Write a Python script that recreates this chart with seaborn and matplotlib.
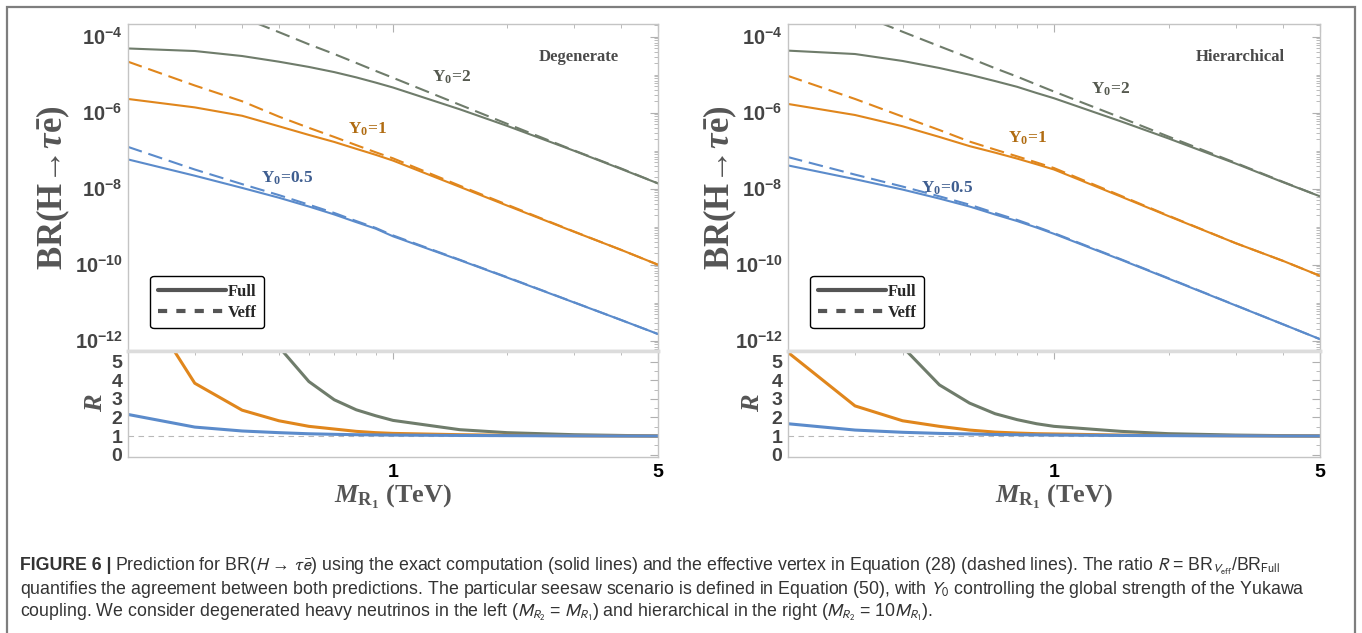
import numpy as np
import pandas as pd
import matplotlib
matplotlib.use("Agg")
import matplotlib.pyplot as plt
import seaborn as sns
from matplotlib.ticker import FixedLocator, NullFormatter, FuncFormatter, LogLocator, MultipleLocator
from matplotlib.lines import Line2D
from matplotlib.patches import Rectangle

# heavy neutrino mass grid (TeV)
m_tev = [0.2, 0.3, 0.4, 0.5, 0.6, 0.7, 0.8, 0.9, 1.0, 1.5, 2, 3, 4, 5]

# Degenerate: BR full / BR Veff / ratio R
deg_full_y2 = [4.9e-5, 4.2e-5, 3.1e-5, 2.2e-5, 1.6e-5, 1.17e-5, 8.5e-6, 6.2e-6, 4.6e-6, 1.23e-6, 4.5e-7, 1.0e-7, 3.3e-8, 1.38e-8]
deg_veff_y2 = [5.1e-3, 1.02e-3, 3.2e-4, 1.32e-4, 6.3e-5, 3.5e-5, 2.04e-5, 1.26e-5, 8.3e-6, 1.62e-6, 5.1e-7, 1.02e-7, 3.4e-8, 1.38e-8]
deg_full_y1 = [2.3e-6, 1.38e-6, 8.3e-7, 4.4e-7, 2.6e-7, 1.7e-7, 1.12e-7, 7.8e-8, 5.5e-8, 1.12e-8, 3.6e-9, 7.4e-10, 2.45e-10, 1.0e-10]
deg_veff_y1 = [2.2e-5, 5.2e-6, 2.0e-6, 7.9e-7, 4.0e-7, 2.3e-7, 1.4e-7, 9.1e-8, 6.3e-8, 1.2e-8, 3.8e-9, 7.5e-10, 2.45e-10, 1.0e-10]
deg_full_y05 = [5.9e-8, 2.2e-8, 1.05e-8, 5.8e-9, 3.4e-9, 2.1e-9, 1.32e-9, 8.9e-10, 5.6e-10, 1.32e-10, 4.6e-11, 1.02e-11, 3.5e-12, 1.5e-12]
deg_veff_y05 = [1.26e-7, 3.2e-8, 1.32e-8, 6.8e-9, 3.8e-9, 2.3e-9, 1.41e-9, 9.3e-10, 5.9e-10, 1.35e-10, 4.7e-11, 1.03e-11, 3.5e-12, 1.5e-12]
deg_r_y2 = [117, 26, 10.7, 5.8, 3.93, 2.95, 2.41, 2.09, 1.84, 1.34, 1.18, 1.07, 1.03, 1.0]
deg_r_y1 = [9.5, 3.84, 2.39, 1.82, 1.52, 1.375, 1.25, 1.18, 1.14, 1.07, 1.04, 1.01, 1.0, 1.0]
deg_r_y05 = [2.16, 1.48, 1.27, 1.18, 1.12, 1.09, 1.07, 1.06, 1.05, 1.03, 1.02, 1.01, 1.0, 1.0]

# Hierarchical
hie_full_y2 = [4.3e-5, 3.5e-5, 2.3e-5, 1.5e-5, 1.0e-5, 6.8e-6, 4.8e-6, 3.3e-6, 2.4e-6, 5.9e-7, 2.1e-7, 4.6e-8, 1.48e-8, 6.3e-9]
hie_veff_y2 = [2.1e-3, 4.3e-4, 1.35e-4, 5.6e-5, 2.75e-5, 1.48e-5, 8.9e-6, 5.5e-6, 3.6e-6, 7.4e-7, 2.35e-7, 4.8e-8, 1.51e-8, 6.3e-9]
hie_full_y1 = [1.7e-6, 8.7e-7, 4.4e-7, 2.3e-7, 1.32e-7, 8.9e-8, 6.2e-8, 4.4e-8, 3.2e-8, 6.2e-9, 1.9e-9, 3.7e-10, 1.26e-10, 5.1e-11]
hie_veff_y1 = [9.3e-6, 2.3e-6, 7.9e-7, 3.5e-7, 1.74e-7, 1.07e-7, 7.1e-8, 4.9e-8, 3.5e-8, 6.5e-9, 1.95e-9, 3.7e-10, 1.26e-10, 5.1e-11]
hie_full_y05 = [4.1e-8, 1.78e-8, 9.5e-9, 5.5e-9, 3.4e-9, 2.1e-9, 1.41e-9, 9.5e-10, 6.5e-10, 1.35e-10, 4.3e-11, 8.5e-12, 2.7e-12, 1.1e-12]
hie_veff_y05 = [6.8e-8, 2.35e-8, 1.14e-8, 6.3e-9, 3.8e-9, 2.3e-9, 1.51e-9, 1.0e-9, 6.8e-10, 1.39e-10, 4.4e-11, 8.6e-12, 2.7e-12, 1.1e-12]
hie_r_y2 = [49, 12.3, 5.8, 3.75, 2.77, 2.20, 1.88, 1.66, 1.52, 1.25, 1.125, 1.05, 1.02, 1.0]
hie_r_y1 = [5.5, 2.62, 1.82, 1.52, 1.32, 1.21, 1.16, 1.125, 1.11, 1.05, 1.03, 1.01, 1.0, 1.0]
hie_r_y05 = [1.66, 1.32, 1.20, 1.14, 1.11, 1.08, 1.07, 1.06, 1.05, 1.03, 1.02, 1.01, 1.0, 1.0]

y0_labels = ["Y$_\\mathregular{0}$=2", "Y$_\\mathregular{0}$=1", "Y$_\\mathregular{0}$=0.5"]
line_colors = ["#6f7c6b", "#e0861c", "#5b8bcb"]
label_colors = ["#55594f", "#b06c12", "#3f5e90"]

sns.set_style("white")
plt.rcParams["font.family"] = ["Liberation Serif", "DejaVu Serif"]
plt.rcParams["mathtext.fontset"] = "custom"
plt.rcParams["mathtext.rm"] = "Liberation Serif:bold"
plt.rcParams["mathtext.it"] = "Liberation Serif:bold:italic"
plt.rcParams["mathtext.bf"] = "Liberation Sans:bold"
plt.rcParams["mathtext.sf"] = "Liberation Sans"

W, H = 1362, 633
fig = plt.figure(figsize=(W / 100, H / 100), dpi=100)

# outer frame
fig.patches.append(Rectangle((7 / W, -0.05), (1355 - 7) / W, 1 - 7 / H + 0.05,
                             transform=fig.transFigure, fill=False,
                             edgecolor="#7e7e7e", lw=1.6))

frame_c = "#c4c4c4"
tick_c = "#b0b0b0"
lab_c = "#444444"


def style_frame(ax):
    for s in ax.spines.values():
        s.set_color(frame_c)
        s.set_linewidth(1.0)
    ax.tick_params(which="both", direction="in", top=True, right=True, color=tick_c)
    ax.tick_params(which="major", length=6, width=0.8)
    ax.tick_params(which="minor", length=3, width=0.6)
    ax.set_xscale("log")
    ax.set_xlim(0.2, 5)
    ax.xaxis.set_major_locator(FixedLocator([1, 5]))
    ax.xaxis.set_minor_locator(FixedLocator([0.3, 0.4, 0.5, 0.6, 0.7, 0.8, 0.9, 2, 3, 4]))
    ax.xaxis.set_minor_formatter(NullFormatter())


def panel(x0px, x1px, full, veff, ratio, title, ypos, ylab_x, rlab_x):
    left = x0px / W
    width = (x1px - x0px) / W
    ax = fig.add_axes([left, 1 - 351 / H, width, (351 - 24) / H])
    axr = fig.add_axes([left, 1 - 457 / H, width, (457 - 351) / H])

    for k in range(3):
        df = pd.DataFrame({"M": m_tev, "full": full[k], "veff": veff[k], "R": ratio[k]})
        sns.lineplot(data=df, x="M", y="full", ax=ax, color=line_colors[k], lw=1.5)
        sns.lineplot(data=df, x="M", y="veff", ax=ax, color=line_colors[k], lw=1.5,
                     linestyle=(0, (7, 3.3)))
        sns.lineplot(data=df, x="M", y="R", ax=axr, color=line_colors[k], lw=2.2)

    # main panel
    style_frame(ax)
    ax.set_yscale("log")
    ax.set_ylim(10 ** -12.27, 10 ** -3.666)
    ax.yaxis.set_major_locator(FixedLocator([1e-12, 1e-10, 1e-8, 1e-6, 1e-4]))
    ax.yaxis.set_minor_locator(LogLocator(base=10, subs=np.arange(1, 10), numticks=30))
    ax.yaxis.set_minor_formatter(NullFormatter())
    ax.yaxis.set_major_formatter(FuncFormatter(
        lambda v, p: r"$\mathbf{10^{%d}}$" % round(np.log10(v))))
    ax.tick_params(axis="y", labelsize=14.5, labelcolor=lab_c, pad=4)
    ax.tick_params(axis="x", labelbottom=False)
    ax.set_xlabel("")
    ax.set_ylabel(r"BR(H→$\tau\bar{\mathrm{e}}$)", fontsize=25,
                  fontweight="bold", color="#555555", va="center")
    ax.yaxis.set_label_coords(ylab_x, 0.5)

    ax.text(0.85, 0.899, title, transform=ax.transAxes, fontsize=12,
            fontweight="bold", color="#4a4a4a", ha="center", va="center")
    for k in range(3):
        ax.text(ypos[k][0], ypos[k][1], y0_labels[k], transform=ax.transAxes,
                fontsize=12.5, fontweight="bold", color=label_colors[k],
                ha="center", va="center")

    handles = [Line2D([], [], color="#555555", lw=3),
               Line2D([], [], color="#555555", lw=3, linestyle=(0, (2.2, 2.2)))]
    leg = ax.legend(handles, ["Full", "Veff"], loc="lower left",
                    bbox_to_anchor=(0.042, 0.07), borderaxespad=0,
                    prop={"family": "Liberation Serif", "weight": "bold", "size": 12},
                    handlelength=4.1, handletextpad=0.1, labelspacing=0.3,
                    borderpad=0.45, fancybox=True, framealpha=1, edgecolor="black")
    leg.get_frame().set_linewidth(1.0)

    # ratio panel
    style_frame(axr)
    axr.axhline(1, color="#b8b8b8", lw=0.8, linestyle=(0, (5, 4)), zorder=0)
    axr.set_ylim(-0.13, 5.575)
    axr.yaxis.set_major_locator(MultipleLocator(1))
    axr.yaxis.set_minor_locator(MultipleLocator(0.5))
    axr.xaxis.set_major_formatter(FuncFormatter(lambda v, p: "%d" % round(v)))
    axr.tick_params(axis="y", labelsize=14, labelcolor=lab_c, pad=4)
    axr.tick_params(axis="x", labelsize=14, labelcolor="black", pad=5)
    for t in axr.get_xticklabels() + axr.get_yticklabels():
        t.set_family("Liberation Sans")
        t.set_fontweight("bold")
    axr.set_ylabel(r"$R$", fontsize=19, color="#555555", va="center")
    axr.yaxis.set_label_coords(rlab_x, 0.51)
    axr.set_xlabel(r"$M_{\mathrm{R_1}}$ (TeV)", fontsize=19, fontweight="bold",
                   color="#555555", va="center")
    axr.xaxis.set_label_coords(0.5, -0.38)
    ax.spines["bottom"].set_linewidth(2.5)
    ax.spines["bottom"].set_color("#dcdcdc")
    axr.spines["top"].set_linewidth(2.5)
    axr.spines["top"].set_color("#dcdcdc")
    return ax, axr


panel(128, 658,
      [deg_full_y2, deg_full_y1, deg_full_y05],
      [deg_veff_y2, deg_veff_y1, deg_veff_y05],
      [deg_r_y2, deg_r_y1, deg_r_y05],
      "Degenerate",
      [(0.611, 0.838), (0.451, 0.679), (0.300, 0.529)],
      -0.140, -0.060)
panel(788, 1320,
      [hie_full_y2, hie_full_y1, hie_full_y05],
      [hie_veff_y2, hie_veff_y1, hie_veff_y05],
      [hie_r_y2, hie_r_y1, hie_r_y05],
      "Hierarchical",
      [(0.607, 0.801), (0.451, 0.651), (0.299, 0.498)],
      -0.128, -0.066)

# caption
cap_fam = ["Liberation Sans Narrow", "Liberation Sans", "DejaVu Sans"]
cap_c = "#333333"
cap_size = 12.8
cap_lines = [
    r"Prediction for BR($H$ → $\tau\bar{e}$) using the exact computation (solid lines) and the effective vertex in Equation (28) (dashed lines). The ratio $R$ = BR$_{V_{\rm eff}}$/BR$_{\rm Full}$",
    r"quantifies the agreement between both predictions. The particular seesaw scenario is defined in Equation (50), with $Y_0$ controlling the global strength of the Yukawa",
    r"coupling. We consider degenerated heavy neutrinos in the left ($M_{R_2}$ = $M_{R_1}$) and hierarchical in the right ($M_{R_2}$ = 10$M_{R_1}$).",
]
cap_y = [566, 589, 612]
x0 = 20 / W
head = fig.text(x0, 1 - cap_y[0] / H, "FIGURE 6 |", family=cap_fam, weight="bold",
                fontsize=cap_size, color=cap_c, va="center")
renderer = fig.canvas.get_renderer()
bb = head.get_window_extent(renderer=renderer)
fig.text(bb.x1 / W + 4 / W, 1 - cap_y[0] / H, cap_lines[0], family=cap_fam,
         fontsize=cap_size, color=cap_c, va="center", math_fontfamily="stixsans")
for line, yy in zip(cap_lines[1:], cap_y[1:]):
    fig.text(x0, 1 - yy / H, line, family=cap_fam, fontsize=cap_size, color=cap_c,
             va="center", math_fontfamily="stixsans")

fig.savefig("out.png", dpi=100)
